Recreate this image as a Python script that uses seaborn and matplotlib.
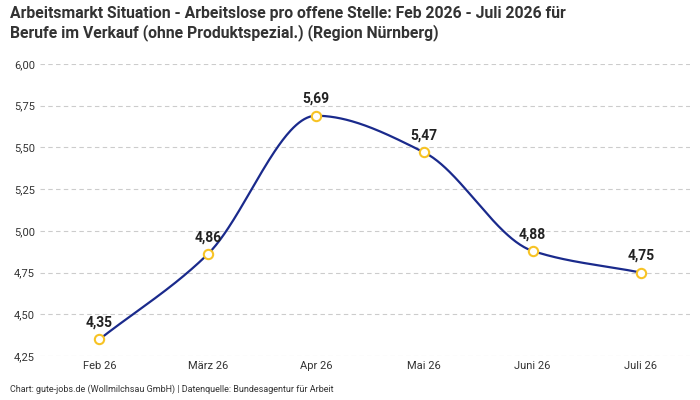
import numpy as np
import matplotlib
matplotlib.use("Agg")
import matplotlib.pyplot as plt
import seaborn as sns

months = ["Feb 26", "März 26", "Apr 26", "Mai 26", "Juni 26", "Juli 26"]
values = [4.35, 4.86, 5.69, 5.47, 4.88, 4.75]
yticks = [4.25, 4.50, 4.75, 5.00, 5.25, 5.50, 5.75, 6.00]

sns.set_theme(style="white")
plt.rcParams['font.family'] = ['Roboto', 'DejaVu Sans']

def pchip(x, y, xs):
    x = np.asarray(x, float); y = np.asarray(y, float)
    h = np.diff(x); d = np.diff(y) / h
    m = np.zeros_like(y)
    for k in range(1, len(y) - 1):
        if d[k-1] * d[k] > 0:
            w1 = 2*h[k] + h[k-1]; w2 = h[k] + 2*h[k-1]
            m[k] = (w1 + w2) / (w1/d[k-1] + w2/d[k])
    m[0] = d[0]; m[-1] = d[-1]
    out = []
    for xv in xs:
        k = min(np.searchsorted(x, xv, side='right') - 1, len(x) - 2)
        t = (xv - x[k]) / h[k]
        h00 = 2*t**3 - 3*t**2 + 1; h10 = t**3 - 2*t**2 + t
        h01 = -2*t**3 + 3*t**2; h11 = t**3 - t**2
        out.append(h00*y[k] + h10*h[k]*m[k] + h01*y[k+1] + h11*h[k]*m[k+1])
    return np.array(out)

fig = plt.figure(figsize=(7, 4), dpi=100)
ax = fig.add_axes([0.057, 0.11, 0.928, 0.73])
x = np.arange(len(months))
xs = np.linspace(0, len(months) - 1, 400)
ax.plot(xs, pchip(x, values, xs), color="#1a2a8c", lw=1.6, zorder=2)
sns.scatterplot(x=x, y=values, ax=ax, s=45, color="white", edgecolor="#f7c325",
                linewidth=1.5, zorder=3)
for xi, v in zip(x, values):
    ax.annotate(f"{v:.2f}".replace(".", ","), (xi, v), xytext=(0, 7),
                textcoords="offset points", ha="center", va="bottom",
                fontsize=10, fontweight="bold", color="#222222")
ax.set_xlim(-0.55, len(months) - 0.55)
ax.set_ylim(4.25, 6.0)
ax.set_yticks(yticks)
ax.set_yticklabels([f"{t:.2f}".replace(".", ",") for t in yticks], fontsize=8, color="#333333")
ax.set_xticks(x)
ax.set_xticklabels(months, fontsize=8, color="#333333")
ax.yaxis.grid(True, linestyle=(0, (4, 3)), color="#cccccc", lw=0.8)
for s in ax.spines.values():
    s.set_visible(False)
ax.tick_params(length=0)
fig.text(0.014, 0.985, "Arbeitsmarkt Situation - Arbeitslose pro offene Stelle: Feb 2026 - Juli 2026 für\nBerufe im Verkauf (ohne Produktspezial.) (Region Nürnberg)",
         ha="left", va="top", fontsize=11.3, fontweight="bold", color="#333333", linespacing=1.25)
fig.text(0.014, 0.015, "Chart: gute-jobs.de (Wollmilchsau GmbH) | Datenquelle: Bundesagentur für Arbeit",
         ha="left", va="bottom", fontsize=6.5, color="#333333")
fig.savefig("out.png", dpi=100)
